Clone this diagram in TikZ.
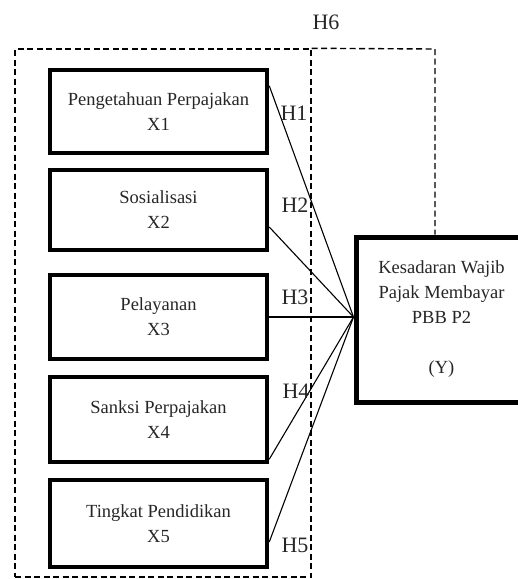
\documentclass[tikz,border=0pt]{standalone}
\usepackage{fontspec}
\setmainfont{Liberation Serif}
\begin{document}
\begin{tikzpicture}[x=1pt,y=-1pt,
  varbox/.style={draw, line width=4.5pt, minimum width=217pt, inner sep=0pt, align=center,
    font=\fontsize{18.5}{25}\selectfont, text=black!85},
  hyplabel/.style={inner sep=0pt, font=\fontsize{22}{22}\selectfont, text=black!85},
  dashline/.style={line width=1.4pt, dash pattern=on 6pt off 3.5pt},
  conn/.style={line width=1.1pt}]
\useasboundingbox (0,0) rectangle (518,579);
% outer dashed group
\node[draw, dashline, minimum width=296pt, minimum height=528pt, inner sep=0pt] (grp) at (163,313) {};
\coordinate (h6c) at (435,49);
% independent variable boxes
\node[varbox, minimum height=83pt] (X1) at (158.5,111.5) {Pengetahuan Perpajakan\\X1};
\node[varbox, minimum height=80pt] (X2) at (158.5,210) {Sosialisasi\\X2};
\node[varbox, minimum height=84pt] (X3) at (158.5,317) {Pelayanan\\X3};
\node[varbox, minimum height=85pt] (X4) at (158.5,419.5) {Sanksi Perpajakan\\X4};
\node[varbox, minimum height=87pt] (X5) at (158.5,523.5) {Tingkat Pendidikan\\X5};
% dependent box
\node[varbox, line width=5pt, minimum width=171pt, minimum height=165pt] (Y) at (441.5,319.5)
  {Kesadaran Wajib\\Pajak Membayar\\PBB P2\\[25pt](Y)};
% H6 dashed
\draw[dashline] (grp.north east) -- (h6c) -- (h6c |- Y.north);
% connectors
\coordinate (yin) at ([yshift=2.5pt]Y.west);
\draw[conn] ([yshift=-18pt]X1.north east) -- (yin);
\draw[conn] ([yshift=-17pt]X2.east) -- (yin);
\draw[conn] (X3.east) -- (yin);
\draw[conn] ([yshift=5pt]X4.south east) -- (yin);
\draw[conn] ([yshift=-18.5pt]X5.east) -- (yin);
% labels
\node[hyplabel] (H1) at (294,113) {H1};
\node[hyplabel] (H2) at (295,205) {H2};
\node[hyplabel] (H3) at (295,297) {H3};
\node[hyplabel] (H4) at (296,391) {H4};
\node[hyplabel] (H5) at (295,545) {H5};
\node[hyplabel] (H6) at (326,22) {H6};
\end{tikzpicture}
\end{document}
